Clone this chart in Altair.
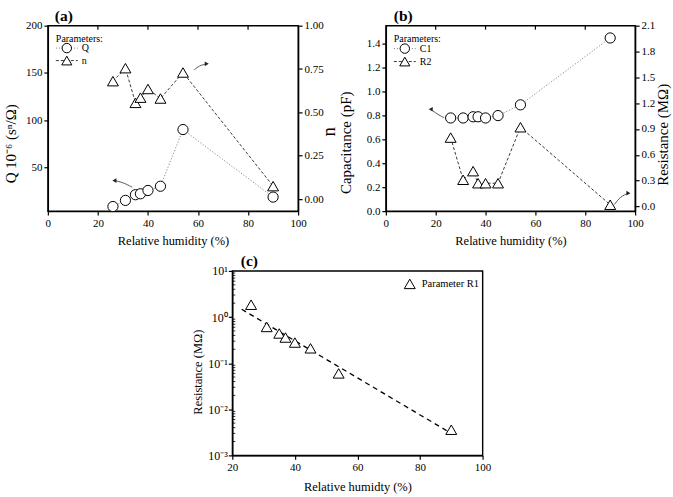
import altair as alt
import pandas as pd

FONT = "Liberation Serif, Times New Roman, serif"

# Relative humidity (%) of the measured points
rh = [26, 31, 35, 37, 40, 45, 54, 90]

# (a) constant-phase element: Q (10^-6 s^n/Ohm) and exponent n
q_cpe = [8.5, 15.0, 21.0, 22.0, 25.5, 30.0, 90.0, 18.5]
n_cpe = [0.68, 0.755, 0.555, 0.585, 0.635, 0.58, 0.73, 0.075]

# (b) capacitance C1 (pF) and resistance R2 (MOhm)
c1 = [0.78, 0.78, 0.79, 0.79, 0.78, 0.80, 0.89, 1.45]
r2 = [0.80, 0.31, 0.41, 0.27, 0.27, 0.27, 0.92, 0.02]

# (c) resistance R1 (MOhm)
r1 = [1.85, 0.61, 0.44, 0.36, 0.28, 0.21, 0.06, 0.0036]

# curved pointer arrows telling which axis a series belongs to
arrow_q_rh, arrow_q_val = [33.7, 30.2, 26.6], [28.9, 33.9, 36.0]
arrow_n_rh, arrow_n_val = [58.5, 60.5, 63.5], [0.745, 0.77, 0.78]
arrow_c_rh, arrow_c_val = [23.3, 20.6, 18.0], [0.783, 0.812, 0.853]
arrow_r_rh, arrow_r_val = [91.7, 94.1, 97.3], [0.023, 0.116, 0.154]

df_a = pd.DataFrame({"RH": rh, "Q": q_cpe, "n": n_cpe})
df_b = pd.DataFrame({"RH": rh, "C1": c1, "R2": r2})
df_c = pd.DataFrame({"RH": rh, "R": r1})
one = pd.DataFrame({"k": [0]})

PW, PH = 251, 186
MARK = dict(filled=True, fill="white", stroke="black", strokeWidth=1, opacity=1)
CIRCLE = 105
TRI = 120


def x_enc(domain, values, title, title_y=29):
    return alt.X(
        "RH:Q",
        scale=alt.Scale(domain=domain, nice=False, zero=False),
        axis=alt.Axis(values=values, format="d", title=title, titleFontSize=12.5,
                      titleY=title_y, titleBaseline="middle"),
    )


def series(df, x, y, shape, size, dash, color):
    line = alt.Chart(df).mark_line(strokeDash=dash, color=color, strokeWidth=1).encode(x=x, y=y)
    pts = alt.Chart(df).mark_point(shape=shape, size=size, **MARK).encode(x=x, y=y)
    return [line, pts]


def arrow(xs, ys, field, x, y, head):
    df = pd.DataFrame({"RH": xs, field: ys})
    body = alt.Chart(df).mark_line(interpolate="basis", color="#444", strokeWidth=0.9).encode(x=x, y=y)
    tip = alt.Chart(df.tail(1)).mark_point(shape=head, size=22, filled=True, color="#222",
                                           opacity=1).encode(x=x, y=y)
    return [body, tip]


def top_ticks(x, values):
    df = pd.DataFrame({"RH": values})
    return alt.Chart(df).mark_rule(color="black", strokeWidth=1.2).encode(
        x=x, y=alt.value(0), y2=alt.value(4))


def legend_row(label, shape, size, dash, color, y):
    line = alt.Chart(one).mark_rule(strokeDash=dash, color=color, strokeWidth=1).encode(
        x=alt.value(8), x2=alt.value(30), y=alt.value(y))
    sym = alt.Chart(one).mark_point(shape=shape, size=size * 0.85, **MARK).encode(
        x=alt.value(19), y=alt.value(y))
    txt = alt.Chart(one).mark_text(align="left", baseline="middle", font=FONT, fontSize=10,
                                   color="black").encode(
        x=alt.value(34), y=alt.value(y), text=alt.value(label))
    return [line, sym, txt]


def text_at(label, px, py, size, weight="normal", align="left"):
    return alt.Chart(one).mark_text(align=align, baseline="alphabetic", font=FONT, fontSize=size,
                                    fontWeight=weight, color="black").encode(
        x=alt.value(px), y=alt.value(py), text=alt.value(label))


DOTTED, DASHED = [1.2, 1.8], [3, 2]
LIGHT, DARK = "#8a8a8a", "#3a3a3a"

# ---------------- panel (a) ----------------
xa = x_enc([0, 100], [0, 20, 40, 60, 80, 100], "Relative humidity (%)")
y_q = alt.Y("Q:Q", scale=alt.Scale(domain=[3.65, 200], nice=False, zero=False),
            axis=alt.Axis(values=[50, 100, 150, 200], title="Q 10⁻⁶ (sⁿ/Ω)", titleFontSize=15,
                          titleX=-37, titleY=118, titleBaseline="middle"))
y_n = alt.Y("n:Q", scale=alt.Scale(domain=[-0.069, 1.0], nice=False, zero=False),
            axis=alt.Axis(orient="right", values=[0, 0.25, 0.5, 0.75, 1.0], format=".2f",
                          title="n", titleFontSize=19, titleAngle=270, titleX=30, titleY=106,
                          titleBaseline="middle"))

q_group = alt.layer(*series(df_a, xa, y_q, "circle", CIRCLE, DOTTED, LIGHT),
                    *arrow(arrow_q_rh, arrow_q_val, "Q", xa, y_q, "triangle-left"))
n_group = alt.layer(*series(df_a, xa, y_n, "triangle-up", TRI, DASHED, DARK),
                    *arrow(arrow_n_rh, arrow_n_val, "n", xa, y_n, "triangle-right"))

panel_a = alt.layer(
    q_group, n_group,
    top_ticks(xa, [20, 40, 60, 80]),
    text_at("Parameters:", 8, 16, 10),
    *legend_row("Q", "circle", CIRCLE, DOTTED, LIGHT, 22.5),
    *legend_row("n", "triangle-up", TRI, DASHED, DARK, 35),
    text_at("(a)", 7, -5, 15.5, "bold"),
).resolve_scale(y="independent").properties(width=PW, height=PH)

# ---------------- panel (b) ----------------
xb = x_enc([0, 100], [0, 20, 40, 60, 80, 100], "Relative humidity (%)")
y_c = alt.Y("C1:Q", scale=alt.Scale(domain=[0, 1.553], nice=False, zero=False),
            axis=alt.Axis(values=[0, 0.2, 0.4, 0.6, 0.8, 1.0, 1.2, 1.4], format=".1f",
                          title="Capacitance (pF)", titleFontSize=15, titleX=-40, titleY=117,
                          titleBaseline="middle"))
y_r = alt.Y("R2:Q", scale=alt.Scale(domain=[-0.054, 2.1], nice=False, zero=False),
            axis=alt.Axis(orient="right", values=[0, 0.3, 0.6, 0.9, 1.2, 1.5, 1.8, 2.1],
                          format=".1f", title="Resistance (MΩ)", titleFontSize=15,
                          titleAngle=270, titleX=27, titleY=109, titleBaseline="middle"))

c_group = alt.layer(*series(df_b, xb, y_c, "circle", CIRCLE, DOTTED, LIGHT),
                    *arrow(arrow_c_rh, arrow_c_val, "C1", xb, y_c, "triangle-left"))
r_group = alt.layer(*series(df_b, xb, y_r, "triangle-up", TRI, DASHED, DARK),
                    *arrow(arrow_r_rh, arrow_r_val, "R2", xb, y_r, "triangle-right"))

panel_b = alt.layer(
    c_group, r_group,
    top_ticks(xb, [20, 40, 60, 80]),
    text_at("Parameters:", 8, 16, 10),
    *legend_row("C1", "circle", CIRCLE, DOTTED, LIGHT, 23),
    *legend_row("R2", "triangle-up", TRI, DASHED, DARK, 36),
    text_at("(b)", 8, -5, 15.5, "bold"),
).resolve_scale(y="independent").properties(width=250, height=PH)

# ---------------- panel (c) ----------------
xc = x_enc([20, 100], [20, 40, 60, 80, 100], "Relative humidty (%)", title_y=31)
sup = ("'10' + (datum.value > 5 ? '¹' : datum.value > 0.5 ? '⁰' : datum.value > 0.05 ? '⁻¹'"
       " : datum.value > 0.005 ? '⁻²' : '⁻³')")
y_log = alt.Y("R:Q", scale=alt.Scale(type="log", domain=[0.001, 10], nice=False),
              axis=alt.Axis(values=[0.001, 0.01, 0.1, 1, 10], labelExpr=sup, labelFontSize=12,
                            labelPadding=1, title="Resistance (MΩ)", titleFontSize=12.5,
                            titleX=-35, titleY=101, titleBaseline="middle"))

minor = pd.DataFrame({"R": [m * 10.0 ** k for k in (-3, -2, -1, 0) for m in range(2, 10)]})
minor_ticks = alt.Chart(minor).mark_rule(color="black", strokeWidth=0.8).encode(
    y=y_log, x=alt.value(0), x2=alt.value(3))

fit = (
    alt.Chart(df_c)
    .transform_calculate(lg="log(datum.R) / LN10")
    .transform_regression("RH", "lg", method="linear", extent=[23, 89], as_=["RH", "lg"])
    .transform_calculate(R="pow(10, datum.lg)")
    .mark_line(color="black", strokeDash=[5, 4], strokeWidth=1.3)
    .encode(x=xc, y=y_log)
)
r1_pts = alt.Chart(df_c).mark_point(shape="triangle-up", size=TRI, **MARK).encode(x=xc, y=y_log)

panel_c = alt.layer(
    minor_ticks, fit, r1_pts,
    alt.Chart(one).mark_point(shape="triangle-up", size=TRI, **MARK).encode(
        x=alt.value(178), y=alt.value(13)),
    alt.Chart(one).mark_text(align="left", baseline="middle", font=FONT, fontSize=10.5,
                             color="black").encode(
        x=alt.value(190), y=alt.value(13.5), text=alt.value("Parameter R1")),
    text_at("(c)", 8.5, -5, 15.5, "bold"),
).properties(width=PW, height=185)

spacer = alt.Chart(one).mark_point(opacity=0).encode(
    x=alt.value(0), y=alt.value(0)
).properties(width=185, height=20, view=alt.ViewBackground(stroke="transparent"))

top_row = alt.hconcat(panel_a, panel_b, spacing=88, bounds="flush")
bottom_row = alt.hconcat(spacer, panel_c, spacing=0, bounds="flush")

chart = (
    alt.vconcat(top_row, bottom_row, spacing=5)
    .properties(padding={"left": 3, "top": 7, "right": 2, "bottom": 2}, background="white")
    .configure_view(stroke="black", strokeWidth=1.4)
    .configure_axis(grid=False, domainColor="black", domainWidth=1.4, tickColor="black",
                    tickWidth=1.2, tickSize=4, labelFont=FONT, labelFontSize=11,
                    labelColor="black", labelPadding=2, labelFlush=False, labelOverlap=False,
                    titleFont=FONT, titleFontWeight="normal", titleColor="black")
)

chart.save("out.html", embed_options={"renderer": "svg", "actions": False})
